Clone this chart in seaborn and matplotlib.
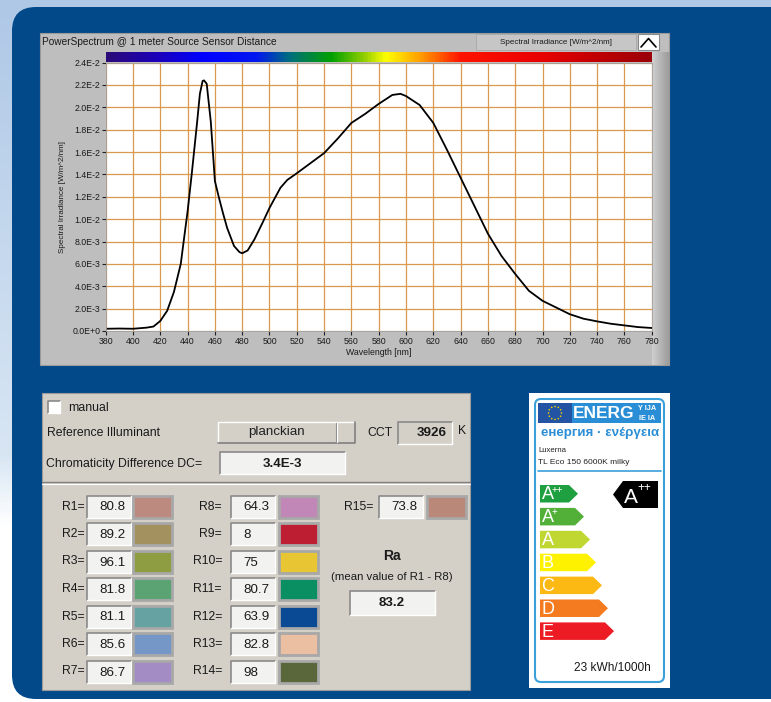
import numpy as np
import pandas as pd
import matplotlib
matplotlib.use("Agg")
import matplotlib.pyplot as plt
import seaborn as sns
from matplotlib.patches import Rectangle, FancyBboxPatch, Polygon, Circle
from matplotlib.colors import LinearSegmentedColormap, to_rgb

# ---------------- data ----------------
wavelength_nm = [380, 390, 400, 405, 410, 415, 420, 425, 430, 435, 437, 440, 443, 447, 449,
                 451, 452, 454, 457, 460, 463, 466, 469, 474, 478, 480, 484, 489, 495, 500,
                 508, 513, 520, 530, 540, 550, 560, 570, 580, 590, 596, 600, 610, 620, 630,
                 640, 650, 660, 670, 680, 690, 700, 710, 720, 730, 740, 750, 760, 770, 780]
irradiance = [0.00020, 0.00022, 0.00020, 0.00025, 0.00030, 0.00040, 0.00090, 0.00180, 0.00350,
              0.00600, 0.00790, 0.01070, 0.01400, 0.01870, 0.02120, 0.02235, 0.02240, 0.02210,
              0.01870, 0.01340, 0.01190, 0.01050, 0.00920, 0.00760, 0.00705, 0.00695, 0.00720,
              0.00820, 0.00970, 0.01100, 0.01280, 0.01350, 0.01410, 0.01500, 0.01590, 0.01720,
              0.01860, 0.01940, 0.02030, 0.02110, 0.02120, 0.02100, 0.02020, 0.01860, 0.01620,
              0.01370, 0.01120, 0.00870, 0.00670, 0.00510, 0.00360, 0.00270, 0.00210, 0.00150,
              0.00110, 0.00086, 0.00065, 0.00050, 0.00035, 0.00027]
x_ticks = list(range(380, 781, 20))
y_ticks = [0.0, 0.002, 0.004, 0.006, 0.008, 0.010, 0.012, 0.014, 0.016, 0.018, 0.020, 0.022, 0.024]
y_tick_labels = ["0.0E+0", "2.0E-3", "4.0E-3", "6.0E-3", "8.0E-3", "1.0E-2", "1.2E-2",
                 "1.4E-2", "1.6E-2", "1.8E-2", "2.0E-2", "2.2E-2", "2.4E-2"]
rainbow_nm = [380, 420, 450, 490, 515, 545, 570, 585, 610, 640, 700, 780]
rainbow_colors = ["#2B0A78", "#1A00C0", "#0000FF", "#0018F0", "#00707A", "#00A000",
                  "#98D000", "#FFFF00", "#FFA000", "#FF1400", "#E80000", "#9A0008"]

cri_labels = ["R1=", "R2=", "R3=", "R4=", "R5=", "R6=", "R7=", "R8=", "R9=", "R10=",
              "R11=", "R12=", "R13=", "R14=", "R15="]
cri_values = ["80.8", "89.2", "96.1", "81.8", "81.1", "85.6", "86.7", "64.3", "8", "75",
              "80.7", "63.9", "82.8", "98", "73.8"]
cri_colors = ["#BC8A7E", "#A39160", "#8E9D42", "#5CA374", "#67A2A3", "#7497C8", "#A38BC4",
              "#C187B6", "#BE1E32", "#E8C532", "#0A8F62", "#0A4A95", "#EBBFA2", "#5A673A",
              "#B98878"]
ra_value = "83.2"
cct_value = "3926"
dc_value = "3.4E-3"
reference_illuminant = "planckian"

energy_letters = ["A", "A", "A", "B", "C", "D", "E"]
energy_sup = ["++", "+", "", "", "", "", ""]
energy_colors = ["#1FA040", "#52B038", "#BFD730", "#FFF200", "#FCB813", "#F47B20", "#ED1C24"]
energy_consumption = "23 kWh/1000h"
product_brand = "Luxerna"
product_model = "TL Eco 150 6000K milky"

# ---------------- figure ----------------
sns.set_style("white")
plt.rcParams['font.family'] = ['Liberation Sans', 'DejaVu Sans']

W, H = 771, 702
fig = plt.figure(figsize=(W / 100, H / 100), dpi=100)
bg = fig.add_axes([0, 0, 1, 1])
bg.axis('off')

# outer slide background (light blue gradient)
yy = np.linspace(0, 1, 200)[:, None]
top_c = np.array(to_rgb("#AFC8E6"))
mid_c = np.array(to_rgb("#D8E6F4"))
grad = np.where(yy < 0.65, top_c + (mid_c - top_c) * (yy / 0.65),
                mid_c + (np.ones(3) - mid_c) * np.clip((yy - 0.65) / 0.1, 0, 1))
bg.imshow(grad[:, None, :].repeat(2, axis=1), extent=(0, W, H, 0), aspect='auto', zorder=0)

# dark blue rounded panel
bg.add_patch(FancyBboxPatch((12, 7), 820, 692, boxstyle="round,pad=0,rounding_size=24",
                            fc="#02498A", ec="none", zorder=1))

# ---- spectrum panel ----
bg.add_patch(Rectangle((40, 33), 629, 332, fc="#BEBEBE", ec="#9A9A9A", lw=0.8, zorder=2))
strip = np.linspace(0, 1, 20)[None, :]
sc = np.array(to_rgb("#CFCFCF")) + (np.array(to_rgb("#9C9C9C")) - np.array(to_rgb("#CFCFCF"))) * strip[..., None]
bg.imshow(sc.repeat(2, axis=0), extent=(652, 669, 365, 52), aspect='auto', zorder=3)
bg.text(42, 42, "PowerSpectrum @ 1 meter Source Sensor Distance", fontsize=7.3,
        color="#1A1A1A", va='center', ha='left', zorder=4)
bg.add_patch(Rectangle((476, 34), 160, 16, fc="#C6C6C6", ec="#A8A8A8", lw=0.6, zorder=4))
bg.text(556, 42, "Spectral Irradiance [W/m^2/nm]", fontsize=5.8, color="#1A1A1A",
        va='center', ha='center', zorder=5)
bg.add_patch(Rectangle((638, 34), 21, 16, fc="white", ec="#8A8A8A", lw=0.8, zorder=4))
bg.plot([641, 648.5, 656], [47, 38.5, 47], color="black", lw=1.2, zorder=5)
bg.text(62, 197, "Spectral Irradiance [W/m^2/nm]", fontsize=5.8, rotation=90,
        color="#1A1A1A", va='center', ha='center', zorder=4)

# rainbow bar
pl, pr, pt, pb = 105.7, 651.7, 62.5, 331.0
rb_ax = fig.add_axes([pl / W, 1 - pt / H, (pr - pl) / W, (pt - 52) / H])
pos = [(v - rainbow_nm[0]) / (rainbow_nm[-1] - rainbow_nm[0]) for v in rainbow_nm]
cmap = LinearSegmentedColormap.from_list("rb", list(zip(pos, rainbow_colors)))
rb_ax.imshow(np.linspace(0, 1, 400)[None, :], cmap=cmap, aspect='auto',
             extent=(rainbow_nm[0], rainbow_nm[-1], 0, 1))
rb_ax.axis('off')

# spectrum axes
ax = fig.add_axes([pl / W, 1 - pb / H, (pr - pl) / W, (pb - pt) / H])
df = pd.DataFrame({"wavelength": wavelength_nm, "irradiance": irradiance})
sns.lineplot(data=df, x="wavelength", y="irradiance", ax=ax, color="black", linewidth=1.3)
ax.set_facecolor("white")
ax.set_xlim(380, 780)
ax.set_ylim(0, 0.024)
ax.set_xticks(x_ticks)
ax.set_xticklabels([str(t) for t in x_ticks])
ax.set_yticks(y_ticks)
ax.set_yticklabels(y_tick_labels)
ax.grid(True, color="#D99A4E", lw=0.9)
ax.set_axisbelow(True)
ax.tick_params(axis='both', direction='out', length=3, width=0.8, color="#222222",
               labelsize=6.3, pad=1, labelcolor="#1A1A1A")
ax.tick_params(axis='x', bottom=True)
ax.tick_params(axis='y', left=True)
ax.set_xlabel("Wavelength [nm]", fontsize=6.3, labelpad=2, color="#1A1A1A")
ax.set_ylabel("")
for s in ax.spines.values():
    s.set_color("#A0A0A0")
    s.set_linewidth(0.6)


# ---- helpers ----
def sunken(x, y, w, h, fc, z=6):
    bg.add_patch(Rectangle((x, y), w, h, fc=fc, ec="none", zorder=z))
    bg.plot([x, x, x + w], [y + h, y, y], color="#8A8A8A", lw=1.2, zorder=z + 1)
    bg.plot([x, x + w, x + w], [y + h, y + h, y], color="#FFFFFF", lw=1.0, zorder=z + 1)


def raised(x, y, w, h, fc, z=6):
    bg.add_patch(Rectangle((x, y), w, h, fc=fc, ec="none", zorder=z))
    bg.plot([x, x, x + w], [y + h, y, y], color="#FFFFFF", lw=1.0, zorder=z + 1)
    bg.plot([x, x + w, x + w], [y + h, y + h, y], color="#808080", lw=1.2, zorder=z + 1)


# ---- CRI panel ----
LBL = 8.8
bg.add_patch(Rectangle((42, 393), 428, 297, fc="#D4D0C8", ec="#9A9A9A", lw=0.8, zorder=5))
bg.plot([42, 470], [482, 482], color="#808080", lw=1.0, zorder=6)
bg.plot([42, 470], [483.5, 483.5], color="#FFFFFF", lw=0.8, zorder=6)

sunken(48, 401, 12, 12, "white")
bg.text(68, 408, "manual", fontsize=LBL, va='center', ha='left', color="#1A1A1A", zorder=8)
bg.text(47, 433.5, "Reference Illuminant", fontsize=LBL, va='center', ha='left',
        color="#1A1A1A", zorder=8)
raised(218, 422, 137, 21, "#D4D0C8")
bg.plot([336, 336], [423, 442], color="#8A8A8A", lw=0.8, zorder=8)
bg.plot([337, 337], [423, 442], color="#FFFFFF", lw=0.8, zorder=8)
bg.text(276, 432.5, reference_illuminant, fontsize=9.6, va='center', ha='center',
        color="#202020", zorder=8)
bg.text(367, 433.5, "CCT", fontsize=LBL, va='center', ha='left', color="#1A1A1A", zorder=8)
sunken(398, 422, 54, 22, "#D4D0C8")
bg.text(447, 433.5, cct_value, fontsize=9.6, fontweight='bold', va='center', ha='right',
        color="#1A1A1A", zorder=8)
bg.text(458, 431.5, "K", fontsize=LBL, va='center', ha='left', color="#1A1A1A", zorder=8)
bg.text(46, 463.5, "Chromaticity Difference DC=", fontsize=LBL, va='center', ha='left',
        color="#1A1A1A", zorder=8)
sunken(220, 452, 125, 22, "#F2F2F0")
bg.text(282, 464, dc_value, fontsize=9.6, fontweight='bold', va='center', ha='center',
        color="#1A1A1A", zorder=8)

col_label_x = [85, 222, 373]
col_box_x = [87, 231, 379]
col_sw_x = [133, 279, 427]
for i, (lab, val, colr) in enumerate(zip(cri_labels, cri_values, cri_colors)):
    col = 0 if i < 7 else (1 if i < 14 else 2)
    row = i if i < 7 else (i - 7 if i < 14 else 0)
    yc = 506.5 + 27.5 * row
    bg.text(col_label_x[col], yc, lab, fontsize=LBL, va='center', ha='right',
            color="#1A1A1A", zorder=8)
    sunken(col_box_x[col], yc - 11, 44, 22, "#F2F2F0")
    bg.text(col_box_x[col] + 12, yc + 1, val, fontsize=9.6, va='center', ha='left',
            color="#1A1A1A", zorder=8)
    bg.add_patch(Rectangle((col_sw_x[col], yc - 11), 39, 22, fc=colr, ec="#A8A8A8",
                           lw=2, zorder=7))

bg.text(392, 556, "Ra", fontsize=10, fontweight='bold', va='center', ha='center',
        color="#1A1A1A", zorder=8)
bg.text(392, 577, "(mean value of R1 - R8)", fontsize=8.2, va='center', ha='center',
        color="#1A1A1A", zorder=8)
sunken(350, 591, 85, 24, "#F2F2F0")
bg.text(392, 603, ra_value, fontsize=9.6, fontweight='bold', va='center', ha='center',
        color="#1A1A1A", zorder=8)

# ---- energy label ----
bg.add_patch(Rectangle((529, 393), 141, 295, fc="white", ec="none", zorder=5))
bg.add_patch(FancyBboxPatch((535, 399), 129, 283, boxstyle="round,pad=0,rounding_size=6",
                            fc="none", ec="#3AA0DA", lw=1.5, zorder=6))
bg.add_patch(Rectangle((538, 403), 34, 20, fc="#2354A3", ec="none", zorder=7))
for k in range(12):
    a = 2 * np.pi * k / 12
    bg.add_patch(Circle((555 + 6.5 * np.cos(a), 413 + 6.5 * np.sin(a)), 0.8,
                        fc="#F4D000", ec="none", zorder=8))
bg.add_patch(Rectangle((572, 403), 89, 20, fc="#2A8ED6", ec="none", zorder=7))
bg.text(573, 413.5, "ENERG", fontsize=12.5, fontweight='bold', color="white",
        va='center', ha='left', zorder=8)
bg.text(647, 408, "Y IJA", fontsize=5.3, fontweight='bold', color="white",
        va='center', ha='center', zorder=8)
bg.text(647, 418, "IE IA", fontsize=5.3, fontweight='bold', color="white",
        va='center', ha='center', zorder=8)
bg.text(600, 433, "енергия · ενέργεια", fontsize=9.6, fontweight='bold', color="#2B8ED6",
        va='center', ha='center', zorder=8)
bg.text(538, 450, product_brand, fontsize=5.6, color="#222222", va='center', ha='left', zorder=8)
bg.text(538, 462, product_model, fontsize=6.0, color="#222222", va='center', ha='left', zorder=8)
bg.plot([538, 661], [471, 471], color="#3AA0DA", lw=1.2, zorder=8)

for i, (let, sup, colr) in enumerate(zip(energy_letters, energy_sup, energy_colors)):
    top = 485 + 22.9 * i
    hgt = 17.5
    tip = 578 + 6 * i
    bg.add_patch(Polygon([(540, top), (tip - 9, top), (tip, top + hgt / 2),
                          (tip - 9, top + hgt), (540, top + hgt)], closed=True,
                         fc=colr, ec="none", zorder=8))
    bg.text(541.5, top + hgt / 2 + 1, let, fontsize=13, color="white", va='center',
            ha='left', zorder=9)
    if sup:
        bg.text(552, top + 4.5, sup, fontsize=7, color="white", va='center',
                ha='left', zorder=9)

bg.add_patch(Polygon([(613, 494.5), (623, 481), (658, 481), (658, 508), (623, 508)],
                     closed=True, fc="black", ec="none", zorder=8))
bg.text(624, 497.5, "A", fontsize=15, color="white", va='center', ha='left', zorder=9)
bg.text(637, 487.5, "++", fontsize=8.5, color="white", va='center', ha='left', zorder=9)
bg.text(612, 668, energy_consumption, fontsize=8.6, color="#1A1A1A", va='center',
        ha='center', zorder=8)

bg.set_xlim(0, W)
bg.set_ylim(H, 0)

fig.savefig("out.png", dpi=100)
